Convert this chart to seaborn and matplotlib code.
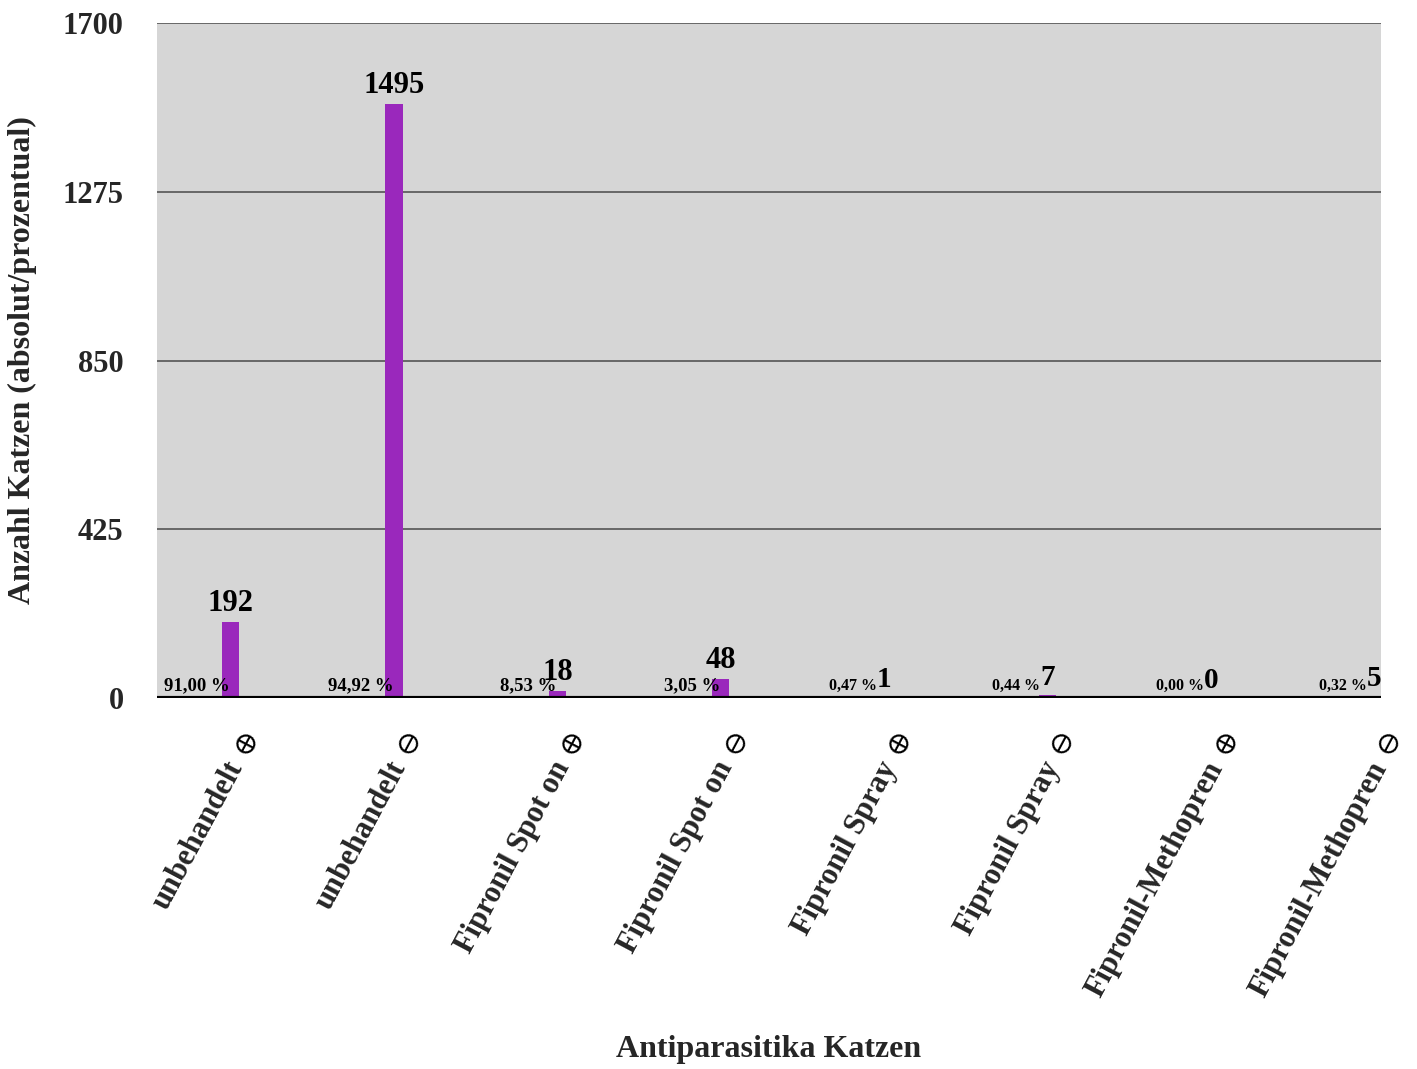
import matplotlib
matplotlib.use("Agg")
import matplotlib.pyplot as plt
import matplotlib.transforms as mtransforms
import seaborn as sns
import pandas as pd

# Anzahl der Katzen je Behandlungsgruppe
kategorien = [
    "unbehandelt",
    "unbehandelt",
    "Fipronil Spot on",
    "Fipronil Spot on",
    "Fipronil Spray",
    "Fipronil Spray",
    "Fipronil-Methopren",
    "Fipronil-Methopren",
]
befund = ["$\\oplus$", "$\\ominus$"] * 4
anzahl = [192, 1495, 18, 48, 1, 7, 0, 5]
prozent = [91.00, 94.92, 8.53, 3.05, 0.47, 0.44, 0.00, 0.32]
y_ticks = [0, 425, 850, 1275, 1700]

sns.set_theme(style="white")
plt.rcParams["font.family"] = ["Liberation Serif", "DejaVu Serif"]
plt.rcParams["font.weight"] = "bold"
plt.rcParams["mathtext.fontset"] = "stix"

gruppen = [f"{k} {b}" for k, b in zip(kategorien, befund)]
df = pd.DataFrame({"Gruppe": gruppen, "Anzahl": anzahl})

fig = plt.figure(figsize=(14.17, 10.69), dpi=100)
ax = fig.add_axes([157 / 1417, 1 - 698 / 1069, 1224 / 1417, 675 / 1069])
ax.set_facecolor("#d6d6d6")

sns.barplot(data=df, x="Gruppe", y="Anzahl", color="#9a28bc",
            width=0.105, saturation=1, linewidth=0, edgecolor="none", ax=ax)

ax.set_xlim(-0.45, 7.04)
ax.set_ylim(0, 1700)
ax.set_yticks(y_ticks)
ax.set_yticklabels([str(t) for t in y_ticks], fontsize=22, fontweight="bold")
ax.tick_params(axis="y", length=0, pad=24)

# Gitterlinien
for t in y_ticks[1:]:
    ax.axhline(t, color="#555555", lw=1.2, zorder=0.5)
ax.axhline(0, color="black", lw=3, zorder=3)
for s in ax.spines.values():
    s.set_visible(False)

# Kategoriebeschriftungen schräg, Befundsymbol dünn und leicht hochgestellt dahinter
pad = 24
dx, dy = 0.06, -0.32
ax.tick_params(axis="x", length=0, pad=pad)
ax.set_xticks(range(len(kategorien)))
ax.set_xticklabels(kategorien, rotation=62, ha="right", va="center",
                   rotation_mode="anchor", fontsize=22, fontweight="bold")
shift = mtransforms.ScaledTranslation(dx, dy, fig.dpi_scale_trans)
for lbl in ax.get_xticklabels():
    lbl.set_transform(lbl.get_transform() + shift)

sym_base = ax.get_xaxis_text1_transform(pad)[0]
sym_shift = mtransforms.ScaledTranslation(dx + 0.04, dy + 0.10,
                                          fig.dpi_scale_trans)
for i, b in enumerate(befund):
    ax.text(i, 0, b, transform=sym_base + sym_shift, rotation=62,
            rotation_mode="anchor", ha="left", va="center",
            fontsize=18, fontweight="normal", color="black", clip_on=False)

# Werte und Prozentangaben
for i, (n, p) in enumerate(zip(anzahl, prozent)):
    gross = i < 4
    ax.annotate(str(n), (i, n), xytext=(0, 3), textcoords="offset points",
                ha="center", va="bottom", fontsize=22 if gross else 21,
                fontweight="bold", color="black", zorder=5)
    ptxt = f"{p:.2f}".replace(".", ",") + " %"
    ax.annotate(ptxt, (i - (0.005 if gross else 0.045), 0), xytext=(0, 3),
                textcoords="offset points", ha="right", va="bottom",
                fontsize=13.5 if gross else 11.5,
                fontweight="bold", color="black", zorder=5)

ax.set_xlabel("Antiparasitika Katzen", fontsize=23, fontweight="bold")
ax.xaxis.set_label_coords(0.5, -0.50)
ax.set_ylabel("Anzahl Katzen (absolut/prozentual)", fontsize=23, fontweight="bold")
ax.yaxis.set_label_coords(-0.110, 0.5)
ax.yaxis.label.set_va("center")

fig.savefig("out.png", dpi=100)
